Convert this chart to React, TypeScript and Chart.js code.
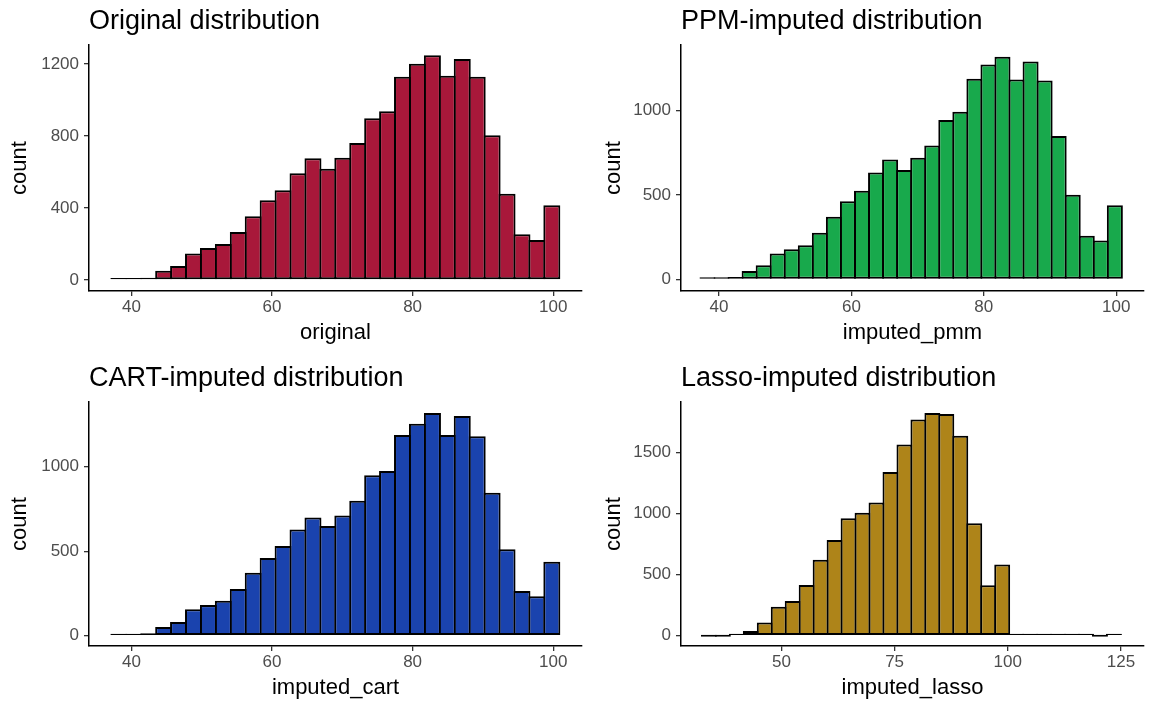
import React, { useEffect, useRef } from 'react';
import { Chart, registerables } from 'chart.js';

Chart.register(...registerables);

// ---- Data (bin counts, 30 bins each) ----
const origCounts = [2, 8, 13, 52, 78, 148, 178, 200, 267, 355, 443, 499, 594, 677, 619, 679, 761, 899, 938, 1129, 1202, 1249, 1135, 1228, 1129, 804, 480, 254, 222, 415];
const pmmCounts = [2, 6, 14, 49, 83, 154, 178, 202, 277, 372, 464, 526, 634, 711, 648, 721, 794, 945, 994, 1190, 1275, 1320, 1186, 1292, 1180, 850, 502, 259, 231, 439];
const cartCounts = [4, 10, 14, 51, 81, 156, 181, 207, 276, 373, 460, 531, 629, 700, 649, 712, 799, 949, 974, 1187, 1254, 1318, 1187, 1300, 1181, 846, 511, 264, 233, 438];
const lassoCounts = [0, 0, 5, 38, 109, 238, 284, 415, 623, 784, 964, 1008, 1093, 1342, 1568, 1773, 1825, 1817, 1639, 923, 413, 585, 13, 14, 8, 6, 1, 1, 0, 1];

// bin edges (start of first bin, bin width)
const origBins = [37.15, 2.124];
const pmmBins = [37.2, 2.122];
const cartBins = [37.15, 2.124];
const lassoBins = [32.42, 3.086];

// tick labels
const xTicks100 = [40, 60, 80, 100];
const xTicksLasso = [50, 75, 100, 125];
const yTicksOrig = [0, 400, 800, 1200];
const yTicks1000 = [0, 500, 1000];
const yTicksLasso = [0, 500, 1000, 1500];

// titles
const titles = ['Original distribution', 'PPM-imputed distribution', 'CART-imputed distribution', 'Lasso-imputed distribution'];
const xLabels = ['original', 'imputed_pmm', 'imputed_cart', 'imputed_lasso'];
const colors = ['#A8183A', '#18A94C', '#1A43AE', '#AE8419'];

const FONT = '"Liberation Sans", Arial, "DejaVu Sans", sans-serif';

type PanelCfg = {
  left: number;
  top: number;
  counts: number[];
  bins: number[];
  xTicks: number[];
  yTicks: number[];
  xMin: number;
  xMax: number;
  yMin: number;
  yMax: number;
  title: string;
  xLabel: string;
  color: string;
  yAxisWidth: number;
  padRight: number;
  titlePadTop: number;
  titlePadBottom: number;
  xAxisHeight: number;
  xTitlePadBottom: number;
  yTitlePadTop: number;
};

const panels: PanelCfg[] = [
  {
    left: 0, top: 0, counts: origCounts, bins: origBins, xTicks: xTicks100, yTicks: yTicksOrig,
    xMin: 33.96, xMax: 104.1, yMin: -61, yMax: 1306,
    title: titles[0], xLabel: xLabels[0], color: colors[0],
    yAxisWidth: 89, padRight: 6, titlePadTop: 5.0, titlePadBottom: 7.6,
    xAxisHeight: 61, xTitlePadBottom: 5.8, yTitlePadTop: 7,
  },
  {
    left: 588, top: 0, counts: pmmCounts, bins: pmmBins, xTicks: xTicks100, yTicks: yTicks1000,
    xMin: 34.26, xMax: 104.2, yMin: -69, yMax: 1390,
    title: titles[1], xLabel: xLabels[1], color: colors[1],
    yAxisWidth: 93, padRight: 32, titlePadTop: 5.0, titlePadBottom: 7.6,
    xAxisHeight: 61, xTitlePadBottom: 5.8, yTitlePadTop: 12.8,
  },
  {
    left: 0, top: 352, counts: cartCounts, bins: cartBins, xTicks: xTicks100, yTicks: yTicks1000,
    xMin: 33.96, xMax: 104.1, yMin: -61, yMax: 1383,
    title: titles[2], xLabel: xLabels[2], color: colors[2],
    yAxisWidth: 89, padRight: 6, titlePadTop: 10.0, titlePadBottom: 7.6,
    xAxisHeight: 58, xTitlePadBottom: 2.8, yTitlePadTop: 7,
  },
  {
    left: 588, top: 352, counts: lassoCounts, bins: lassoBins, xTicks: xTicksLasso, yTicks: yTicksLasso,
    xMin: 27.8, xMax: 130.1, yMin: -84, yMax: 1916,
    title: titles[3], xLabel: xLabels[3], color: colors[3],
    yAxisWidth: 93, padRight: 32, titlePadTop: 10.0, titlePadBottom: 7.6,
    xAxisHeight: 58, xTitlePadBottom: 2.8, yTitlePadTop: 12.8,
  },
];

const W = 588;
const H = 352;
const BAR_BORDER = 2;

function Panel({ cfg }: { cfg: PanelCfg }) {
  const ref = useRef<HTMLCanvasElement>(null);

  useEffect(() => {
    if (!ref.current) return;
    const [start, width] = cfg.bins;
    const points = cfg.counts.map((c, i) => ({ x: start + (i + 0.5) * width, y: c }));

    const axisCommon = {
      grid: {
        display: true,
        drawOnChartArea: false,
        drawTicks: true,
        tickLength: 5,
        color: '#333333',
        lineWidth: 1.3,
        offset: false,
      },
      border: { display: true, color: '#000000', width: 1.5 },
    };

    const chart = new Chart(ref.current, {
      type: 'bar',
      data: {
        datasets: [
          {
            data: points as any,
            backgroundColor: cfg.color,
            borderColor: '#000000',
            borderWidth: BAR_BORDER,
            borderSkipped: false,
            barPercentage: 1.14,
            categoryPercentage: 1,
            minBarLength: 2,
            inflateAmount: 0,
          } as any,
        ],
      },
      options: {
        animation: false,
        responsive: false,
        devicePixelRatio: 1,
        layout: { padding: { left: 0, right: cfg.padRight, top: 0, bottom: 0 } },
        plugins: {
          legend: { display: false },
          tooltip: { enabled: false },
          title: {
            display: true,
            text: cfg.title,
            align: 'start',
            fullSize: false,
            color: '#000000',
            font: { family: FONT, size: 27, weight: 'normal' as any },
            padding: { top: cfg.titlePadTop, bottom: cfg.titlePadBottom },
          },
        },
        scales: {
          x: {
            type: 'linear',
            min: cfg.xMin,
            max: cfg.xMax,
            offset: false,
            ...axisCommon,
            afterBuildTicks: (s: any) => {
              s.ticks = cfg.xTicks.map((v) => ({ value: v }));
            },
            afterFit: (s: any) => {
              s.height = cfg.xAxisHeight;
            },
            ticks: {
              color: '#4D4D4D',
              font: { family: FONT, size: 17 },
              padding: 1,
              maxRotation: 0,
              autoSkip: false,
              callback: (v: any) => String(v),
            },
            title: {
              display: true,
              text: cfg.xLabel,
              color: '#000000',
              font: { family: FONT, size: 22 },
              padding: { top: 0, bottom: cfg.xTitlePadBottom },
            },
          },
          y: {
            type: 'linear',
            min: cfg.yMin,
            max: cfg.yMax,
            ...axisCommon,
            afterBuildTicks: (s: any) => {
              s.ticks = cfg.yTicks.map((v) => ({ value: v }));
            },
            afterFit: (s: any) => {
              s.width = cfg.yAxisWidth;
            },
            ticks: {
              color: '#4D4D4D',
              font: { family: FONT, size: 17 },
              padding: 5,
              autoSkip: false,
              callback: (v: any) => String(v),
            },
            title: {
              display: true,
              text: 'count',
              color: '#000000',
              font: { family: FONT, size: 22 },
              padding: { top: cfg.yTitlePadTop, bottom: 0 },
            },
          },
        },
      } as any,
    });

    return () => chart.destroy();
  }, [cfg]);

  return (
    <canvas
      ref={ref}
      width={W}
      height={H}
      style={{ position: 'absolute', left: cfg.left, top: cfg.top, width: W, height: H }}
    />
  );
}

export default function App() {
  return (
    <div
      style={{
        position: 'absolute',
        left: 0,
        top: 0,
        width: 1176,
        height: 704,
        background: '#ffffff',
        overflow: 'hidden',
      }}
    >
      {panels.map((p, i) => (
        <Panel key={i} cfg={p} />
      ))}
    </div>
  );
}
